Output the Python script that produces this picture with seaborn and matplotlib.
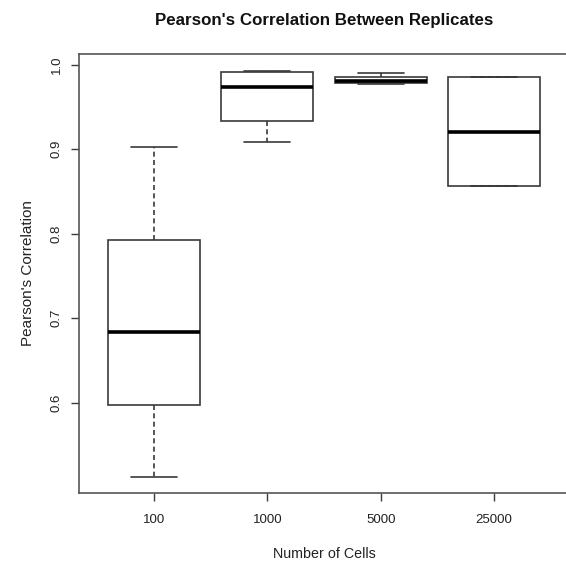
import numpy as np
import pandas as pd
import matplotlib
matplotlib.use("Agg")
import matplotlib.pyplot as plt
import seaborn as sns

# Five-number summaries (whisker low, Q1, median, Q3, whisker high)
categories = ["100", "1000", "5000", "25000"]
whisker_low = [0.512, 0.908, 0.977, 0.856]
q1 = [0.597, 0.933, 0.978, 0.856]
median = [0.683, 0.974, 0.981, 0.921]
q3 = [0.793, 0.992, 0.986, 0.986]
whisker_high = [0.903, 0.993, 0.990, 0.986]

rows = []
for i, c in enumerate(categories):
    for v in (whisker_low[i], q1[i], median[i], q3[i], whisker_high[i]):
        rows.append({"cells": c, "corr": v})
df = pd.DataFrame(rows)

sns.set_style("white")
plt.rcParams["font.family"] = ["Liberation Sans", "DejaVu Sans"]

fig = plt.figure(figsize=(5.66, 5.61), dpi=100)
W, H = 566, 561
left, right, top, bottom = 79, 569, 53.5, 492.5
ax = fig.add_axes([left / W, 1 - bottom / H, (right - left) / W, (bottom - top) / H])

line_col = "#3a3a3a"
sns.boxplot(data=df, x="cells", y="corr", order=categories, ax=ax,
            width=0.81, whis=1.5, fliersize=0, color="white",
            linecolor=line_col, linewidth=1.2,
            boxprops=dict(facecolor="white", edgecolor=line_col, linewidth=1.2),
            whiskerprops=dict(color=line_col, linestyle=(0, (3, 2)), linewidth=1.2),
            capprops=dict(color=line_col, linewidth=1.2),
            medianprops=dict(color="black", linewidth=2.6))

# caps at half the box width, as in R
for ln in ax.lines:
    xd = np.asarray(ln.get_xdata(), dtype=float)
    yd = np.asarray(ln.get_ydata(), dtype=float)
    if len(xd) == 2 and yd[0] == yd[1] and ln.get_linewidth() < 2:
        cx = xd.mean()
        half = 0.81 / 4
        if abs(xd[1] - xd[0]) < 0.8:
            ln.set_xdata([cx - half, cx + half])

ax.set_xlim(-0.66, 3.66)
ax.set_ylim(0.4935, 1.0134)
ax.set_yticks([0.6, 0.7, 0.8, 0.9, 1.0])
ax.set_yticklabels(["0.6", "0.7", "0.8", "0.9", "1.0"], rotation=90, va="center")
ax.tick_params(axis="both", direction="out", length=5.8, width=1.0, color=line_col,
               labelsize=9.5, labelcolor="#222222", left=True, bottom=True)
ax.tick_params(axis="x", pad=10)
ax.tick_params(axis="y", pad=6)
for s in ax.spines.values():
    s.set_color("#555555")
    s.set_linewidth(1.2)
    s.set_visible(True)

ax.set_xlabel("Number of Cells", fontsize=10.3, color="#222222", labelpad=15)
ax.set_ylabel("Pearson's Correlation", fontsize=11, color="#222222", labelpad=11)
fig.text((left + right) / 2 / W, 1 - 20 / H, "Pearson's Correlation Between Replicates",
         ha="center", va="center", fontsize=12.2, fontweight="bold", color="#111111")

fig.savefig("out.png", dpi=100)
